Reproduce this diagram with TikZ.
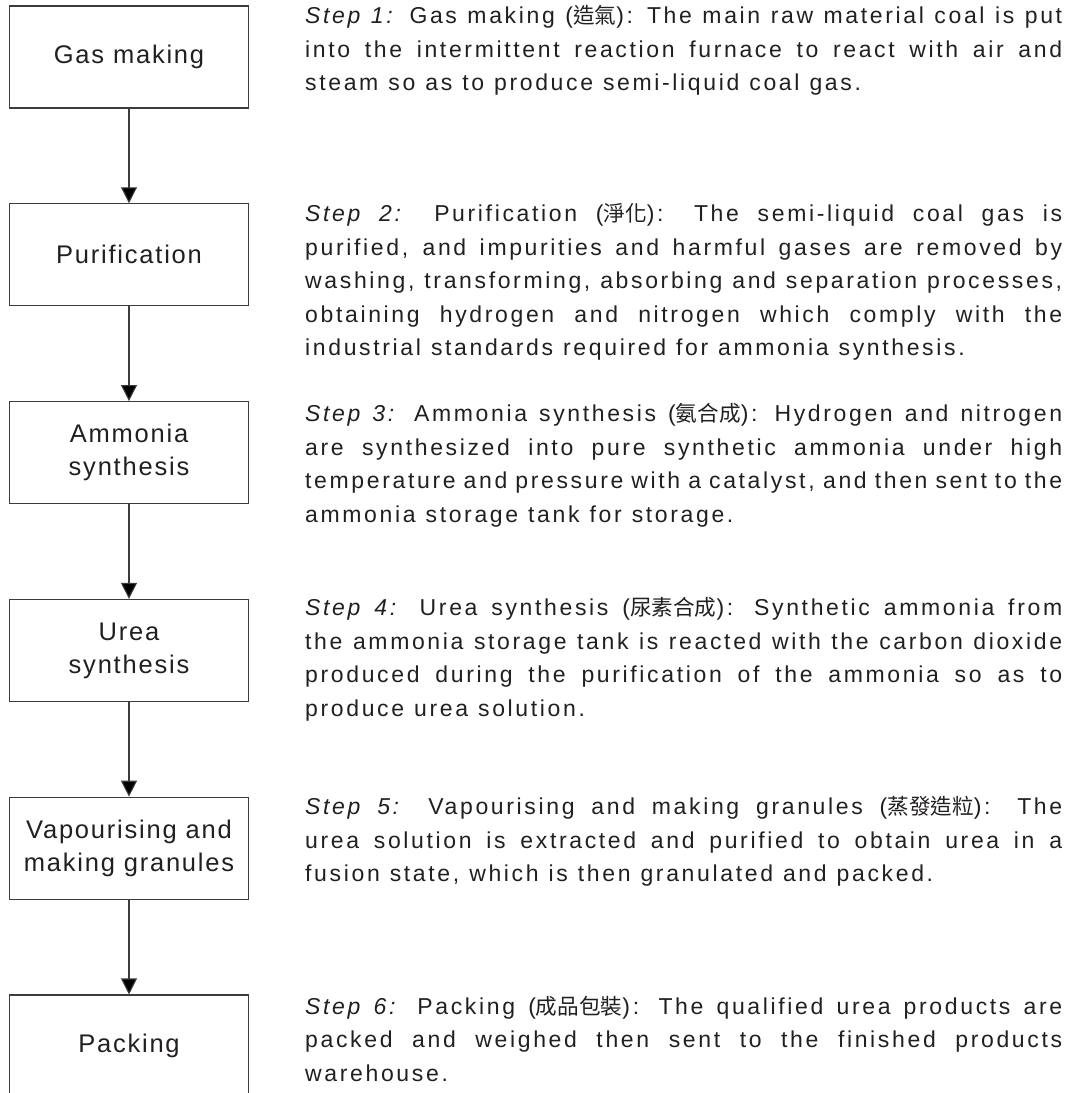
\documentclass[tikz,border=0pt]{standalone}
\usepackage{fontspec}
\setmainfont{Liberation Sans}
\newfontfamily\stepfont[LetterSpace=11.5,Ligatures=NoCommon]{Liberation Sans}
\newfontfamily\boxfont[LetterSpace=7,Ligatures=NoCommon]{Liberation Sans}
\newfontfamily\cjk[Scale=0.94]{Noto Sans CJK TC}
\usetikzlibrary{arrows.meta,positioning}

\definecolor{ink}{HTML}{231F20}
\definecolor{frame}{HTML}{3C3C3C}
\newcommand{\stp}[1]{\textit{Step #1:}}
\newcommand{\zh}[1]{{\cjk #1}}
\newcommand{\descfont}{\stepfont\fontsize{23}{33.5}\selectfont\spaceskip=10pt plus 9pt minus 4.5pt\relax}

\tikzset{
	procbox/.style={shape=rectangle,draw=frame,line width=1.1pt,minimum width=239pt,minimum height=102pt,
		inner sep=0pt,align=center,text=ink,font=\boxfont\fontsize{25.5}{33}\selectfont},
	stepdesc/.style={anchor=north west,inner sep=0pt,text width=757pt,align=justify,text=ink,font=\descfont},
	flow/.style={->,draw=frame,line width=1.1pt},
	>={Triangle[width=16pt,length=16pt]}
}

\begin{document}
\begin{tikzpicture}[x=1pt,y=-1pt]
	\useasboundingbox (0,0) rectangle (1079,1093);
	% process boxes
	\node[procbox](gas) at (129,57) {Gas making};
	\node[procbox](puri) at (129,254.8) {Purification};
	\node[procbox](ammo) at (129,452.6) {Ammonia\\synthesis};
	\node[procbox](urea) at (129,650.4) {Urea\\synthesis};
	\node[procbox](vapo) at (129,848.2) {Vapourising and\\making granules};
	\node[procbox](pack) at (129,1046) {Packing};
	% descriptions
	\node[stepdesc](s1) at (305,5.5) {\stp{1} Gas making (\zh{造氣}): The main raw material coal is put\linebreak
		into the intermittent reaction furnace to react with air and\linebreak
		steam so as to produce semi-liquid coal gas.};
	\node[stepdesc](s2) at (305,203.5) {\stp{2} Purification (\zh{淨化}): The semi-liquid coal gas is\linebreak
		purified, and impurities and harmful gases are removed by\linebreak
		washing, transforming, absorbing and separation processes,\linebreak
		obtaining hydrogen and nitrogen which comply with the\linebreak
		industrial standards required for ammonia synthesis.};
	\node[stepdesc](s3) at (305,403.5) {\stp{3} Ammonia synthesis (\zh{氨合成}): Hydrogen and nitrogen\linebreak
		are synthesized into pure synthetic ammonia under high\linebreak
		temperature and pressure with a catalyst, and then sent to the\linebreak
		ammonia storage tank for storage.};
	\node[stepdesc](s4) at (305,597.5) {\stp{4} Urea synthesis (\zh{尿素合成}): Synthetic ammonia from\linebreak
		the ammonia storage tank is reacted with the carbon dioxide\linebreak
		produced during the purification of the ammonia so as to\linebreak
		produce urea solution.};
	\node[stepdesc](s5) at (305,796.5) {\stp{5} Vapourising and making granules (\zh{蒸發造粒}): The\linebreak
		urea solution is extracted and purified to obtain urea in a\linebreak
		fusion state, which is then granulated and packed.};
	\node[stepdesc](s6) at (305,996) {\stp{6} Packing (\zh{成品包裝}): The qualified urea products are\linebreak
		packed and weighed then sent to the finished products\linebreak
		warehouse.};
	% flow
	\path[flow](gas) edge (puri);
	\path[flow](puri) edge (ammo);
	\path[flow](ammo) edge (urea);
	\path[flow](urea) edge (vapo);
	\path[flow](vapo) edge (pack);
\end{tikzpicture}
\end{document}
